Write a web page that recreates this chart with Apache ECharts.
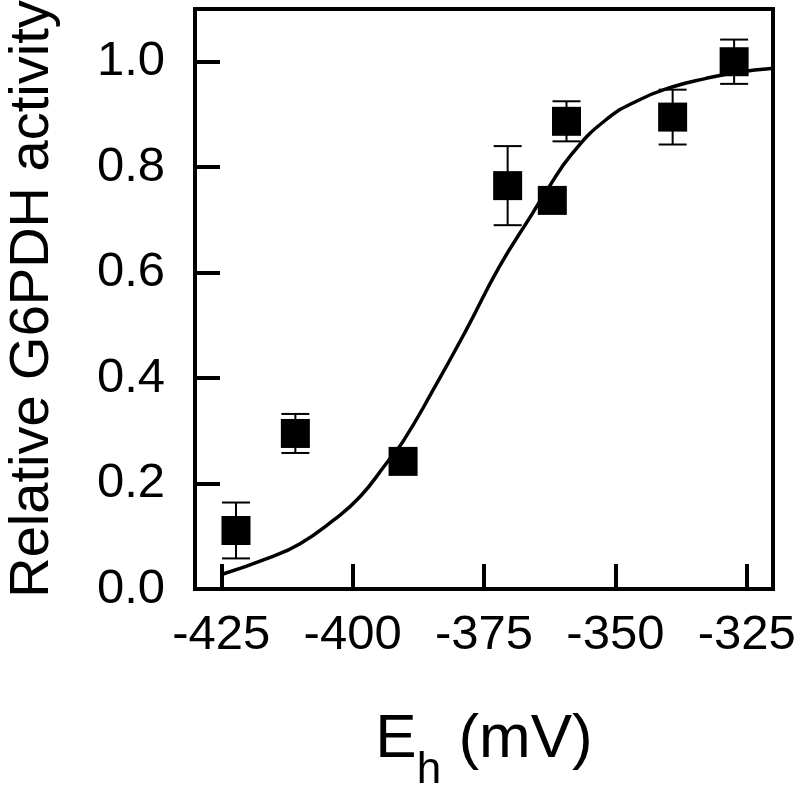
<!DOCTYPE html>
<html>
<head>
<meta charset="utf-8">
<script src="https://cdn.jsdelivr.net/npm/echarts@6/dist/echarts.min.js"></script>
<style>html,body{margin:0;padding:0;background:#fff}#c{width:800px;height:790px}</style>
</head>
<body>
<div id="c"></div>
<script>
// Measured points: redox potential (mV), relative activity, error (SD)
var potentials = [-422.2, -410.9, -390.4, -370.5, -362.0, -359.3, -339.1, -327.4];
var activity   = [0.111, 0.295, 0.242, 0.765, 0.737, 0.887, 0.895, 1.000];
var errors     = [0.053, 0.037, 0.02, 0.075, 0.02, 0.038, 0.052, 0.042];
// Fitted curve
var fitX = [-424.8, -416.2, -410.0, -403.7, -398.6, -393.6, -390.4, -384.7, -378.4, -372.1, -365.8, -363.3, -358.2, -351.9, -345.6, -339.2, -332.9, -326.6, -320.3];
var fitY = [0.028, 0.058, 0.086, 0.130, 0.175, 0.238, 0.280, 0.377, 0.491, 0.611, 0.712, 0.752, 0.826, 0.889, 0.927, 0.952, 0.968, 0.980, 0.987];
var xTicks = [-425, -400, -375, -350, -325];
var yTicks = [0, 0.2, 0.4, 0.6, 0.8, 1.0];

var FONT = 'Liberation Sans';
var chart = echarts.init(document.getElementById('c'), null, {renderer: 'canvas'});
var points = potentials.map(function (x, i) { return [x, activity[i]]; });
var errData = potentials.map(function (x, i) { return [x, activity[i] - errors[i], activity[i] + errors[i]]; });
var fitData = fitX.map(function (x, i) { return [x, fitY[i]]; });

chart.setOption({
  animation: false,
  backgroundColor: '#fff',
  grid: {left: 195, right: 27, top: 9, bottom: 201, show: true, borderColor: '#000', borderWidth: 4,
         containLabel: false, outerBoundsMode: 'none'},
  xAxis: {
    type: 'value', min: -430, max: -320,
    axisLine: {show: true, lineStyle: {color: '#000', width: 4}},
    axisTick: {show: true, inside: true, length: 25, customValues: xTicks, lineStyle: {color: '#000', width: 4}},
    axisLabel: {customValues: xTicks, margin: 22, color: '#000', fontFamily: FONT, fontSize: 49, formatter: function (v) { return String(v); }},
    splitLine: {show: false},
    name: '{a|E}{b|h}{a| (mV)}',
    nameLocation: 'middle', nameGap: 120,
    nameTextStyle: {
      rich: {
        a: {fontFamily: FONT, fontSize: 62, color: '#000', lineHeight: 62, verticalAlign: 'top'},
        b: {fontFamily: FONT, fontSize: 44, color: '#000', lineHeight: 44, padding: [40, 0, 0, 0], verticalAlign: 'top'}
      }
    }
  },
  yAxis: {
    type: 'value', min: 0, max: 1.1,
    axisLine: {show: true, lineStyle: {color: '#000', width: 4}},
    axisTick: {show: true, inside: true, length: 25, customValues: yTicks, lineStyle: {color: '#000', width: 4}},
    axisLabel: {customValues: yTicks, margin: 30, color: '#000', fontFamily: FONT, fontSize: 49, formatter: function (v) { return v.toFixed(1); }},
    splitLine: {show: false},
    name: 'Relative G6PDH activity',
    nameLocation: 'middle', nameGap: 134,
    nameTextStyle: {fontFamily: FONT, fontSize: 56, color: '#000'}
  },
  series: [
    {
      type: 'line', data: fitData, smooth: true, symbol: 'none',
      lineStyle: {color: '#000', width: 3.5}, z: 2
    },
    {
      type: 'custom', data: errData, z: 3,
      renderItem: function (params, api) {
        var x = api.value(0);
        var lo = api.coord([x, api.value(1)]);
        var hi = api.coord([x, api.value(2)]);
        var hw = 14;
        var st = {stroke: '#000', lineWidth: 2};
        return {type: 'group', children: [
          {type: 'line', shape: {x1: lo[0], y1: lo[1], x2: hi[0], y2: hi[1]}, style: st},
          {type: 'line', shape: {x1: lo[0] - hw, y1: lo[1], x2: lo[0] + hw, y2: lo[1]}, style: st},
          {type: 'line', shape: {x1: hi[0] - hw, y1: hi[1], x2: hi[0] + hw, y2: hi[1]}, style: st}
        ]};
      }
    },
    {
      type: 'scatter', data: points, symbol: 'rect', symbolSize: 29,
      itemStyle: {color: '#000', opacity: 1}, z: 4
    }
  ]
});
</script>
</body>
</html>
